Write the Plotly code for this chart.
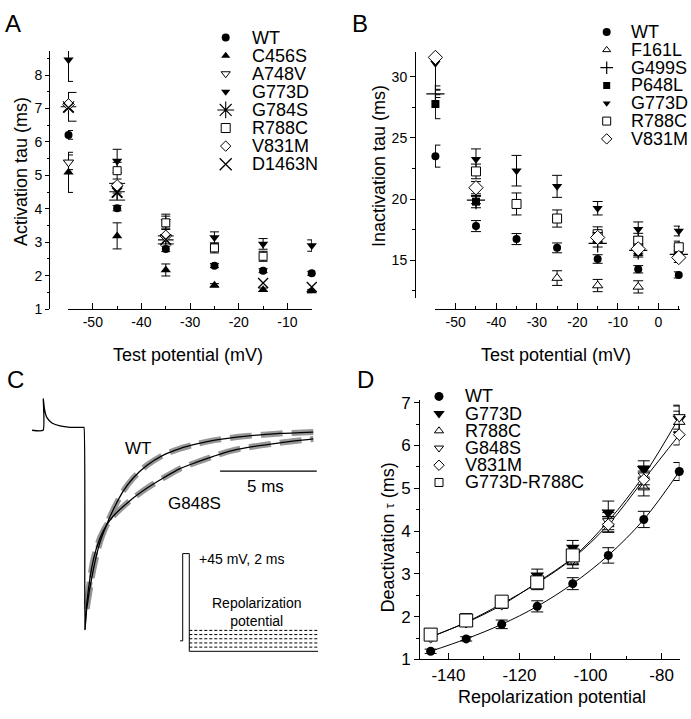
import plotly.graph_objects as go

W, H = 691, 719
FONT = "Liberation Sans, Arial, sans-serif"

# ---------------- Panel A : activation tau ----------------
A_V = [-55, -45, -35, -25, -15, -5]
A_WT = [6.21, 4.02, 2.80, 2.30, 2.15, 2.07]
A_WT_err = [0.13, 0.08, 0.08, 0.06, 0.06, 0.06]
A_C456S = [5.09, 3.19, 2.17, 1.71, 1.58, 1.54]
A_C456S_err = [0.60, 0.39, 0.18, 0.05, 0.05, 0.05]
A_A748V_V = [-55, -45]
A_A748V = [5.39, 4.62]
A_A748V_err = [0.22, 0.15]
A_G773D = [8.46, 5.43, 3.63, 3.14, 2.95, 2.90]
A_G773D_err = [0.65, 0.35, 0.21, 0.17, 0.16, 0.17]
A_G784S_V = [-55, -45, -35]
A_G784S = [7.05, 4.51, 3.07]
A_G784S_err = [0.43, 0.25, 0.12]
A_R788C_V = [-45, -35, -25, -15]
A_R788C = [5.14, 3.58, 2.83, 2.58]
A_R788C_err = [0.25, 0.20, 0.15, 0.15]
A_V831M_V = [-55, -45, -35]
A_V831M = [7.12, 4.70, 3.19]
A_D1463N_V = [-55, -45, -35, -15, -5]
A_D1463N = [7.02, 4.48, 3.08, 1.78, 1.66]
A_xticks = [-50, -40, -30, -20, -10]
A_xticklabels = ["-50", "-40", "-30", "-20", "-10"]
A_names = ["WT", "C456S", "A748V", "G773D", "G784S", "R788C", "V831M", "D1463N"]

# ---------------- Panel B : inactivation tau ----------------
B_V = [-55, -45, -35, -25, -15, -5, 5]
B_WT = [23.51, 17.79, 16.73, 16.01, 15.10, 14.26, 13.80]
B_WT_err = [0.90, 0.45, 0.45, 0.40, 0.35, 0.30, 0.25]
B_F161L_V = [-25, -15, -5]
B_F161L = [13.54, 12.93, 12.82]
B_F161L_err = [0.60, 0.50, 0.50]
B_G499S_V = [-55, -45, -15, -5, 5]
B_G499S = [28.6, 19.92, 16.38, 15.80, 15.48]
B_G499S_err = [0.30, 0.30, 0.30, 0.40, 0.30]
B_P648L_V = [-55, -45, -5, 5]
B_P648L = [27.77, 19.79, 15.66, 15.74]
B_P648L_err = [1.20, 0.50, 0.40, 0.40]
B_G773D = [31.10, 23.25, 22.32, 21.04, 19.25, 17.53, 17.39]
B_G773D_err = [1.85, 0.85, 1.25, 0.90, 0.55, 0.60, 0.40]
B_R788C_V = [-45, -35, -25, -15, -5, 5]
B_R788C = [22.26, 19.60, 18.41, 17.13, 16.60, 16.06]
B_R788C_err = [0.60, 0.90, 0.70, 0.60, 0.60, 0.50]
B_V831M_V = [-55, -45, -15, -5, 5]
B_V831M = [31.58, 20.93, 16.86, 15.93, 15.22]
B_V831M_err = [3.05, 0.50, 0.40, 0.40, 0.40]
B_xticks = [-50, -40, -30, -20, -10, 0]
B_xticklabels = ["-50", "-40", "-30", "-20", "-10", "0"]
B_names = ["WT", "F161L", "G499S", "P648L", "G773D", "R788C", "V831M"]

# ---------------- Panel C : current traces ----------------
C_pre_t = [-2.69, -2.12, -2.11, -2.05, -1.92, -1.66, -1.24, -0.73, -0.03, 0.0]
C_pre_I = [-0.014, -0.014, 0.142, 0.092, 0.048, 0.022, 0.007, 0.0, 0.0, 0.0]
C_WT_t = [0.05, 0.14, 0.48, 0.83, 1.18, 1.52, 2.04, 2.55, 3.25, 4.11, 4.97, 5.84, 6.70, 8.43, 10.16, 11.88]
C_WT_I = [-1.0, -0.897, -0.704, -0.567, -0.478, -0.406, -0.314, -0.250, -0.188, -0.137,
          -0.105, -0.082, -0.064, -0.043, -0.030, -0.023]
C_G848S_t = [0.05, 0.14, 0.48, 0.83, 1.18, 1.52, 2.38, 3.25, 4.11, 4.97, 5.84, 6.70, 7.56, 8.43, 10.16, 11.88]
C_G848S_I = [-1.0, -0.873, -0.656, -0.546, -0.482, -0.438, -0.362, -0.301, -0.250, -0.204,
             -0.172, -0.143, -0.117, -0.100, -0.076, -0.057]
C_scale_t = [7.05, 12.06]
C_scale_I = [-0.216, -0.216]
# voltage protocol (inset)
P_t = [-0.8, 0, 0, 2, 2, 41]
P_V = [-80, -80, 45, 45, -95, -95]
P_levels = [-65, -71, -77, -83, -89]
P_level_t = [2, 41]

# ---------------- Panel D : deactivation tau ----------------
D_V = [-145, -135, -125, -115, -105, -95, -85, -75]
D_WT = [1.19, 1.48, 1.82, 2.24, 2.77, 3.43, 4.27, 5.39]
D_WT_err = [0.05, 0.05, 0.10, 0.13, 0.14, 0.18, 0.19, 0.21]
D_G773D = [1.66, 1.99, 2.37, 2.96, 3.61, 4.43, 5.45, 6.62]
D_G773D_err = [0.05, 0.08, 0.08, 0.15, 0.17, 0.27, 0.19, 0.30]
D_R788C = [1.50, 1.85, 2.30, 2.75, 3.28, 4.16, 5.02, 6.55]
D_R788C_err = [0.05, 0.08, 0.08, 0.12, 0.15, 0.18, 0.20, 0.25]
D_G848S = [1.53, 1.86, 2.27, 2.80, 3.38, 4.23, 5.30, 6.66]
D_G848S_err = [0.05, 0.08, 0.08, 0.12, 0.15, 0.20, 0.22, 0.28]
D_V831M = [1.52, 1.87, 2.30, 2.78, 3.36, 4.15, 5.20, 6.25]
D_V831M_err = [0.05, 0.08, 0.08, 0.12, 0.15, 0.18, 0.20, 0.24]
D_dm_V = [-145, -135, -125, -115, -105]
D_dm = [1.58, 1.91, 2.35, 2.80, 3.43]
D_dm_err = [0.06, 0.08, 0.08, 0.10, 0.12]
D_xticks = [-140, -120, -100, -80]
D_xticklabels = ["-140", "-120", "-100", "-80"]
D_names = ["WT", "G773D", "R788C", "G848S", "V831M", "G773D-R788C"]

# ---------------- styles ----------------
BLK = "black"
STY = {
    "circle": dict(symbol="circle", color=BLK, line=dict(color=BLK, width=0)),
    "tri_up": dict(symbol="triangle-up", color=BLK, line=dict(color=BLK, width=0)),
    "tri_up_open": dict(symbol="triangle-up", color="white", line=dict(color=BLK, width=1)),
    "tri_down": dict(symbol="triangle-down", color=BLK, line=dict(color=BLK, width=0)),
    "tri_down_open": dict(symbol="triangle-down", color="white", line=dict(color=BLK, width=1)),
    "square": dict(symbol="square", color=BLK, line=dict(color=BLK, width=0)),
    "square_open": dict(symbol="square", color="white", line=dict(color=BLK, width=1)),
    "diamond_open": dict(symbol="diamond", color="white", line=dict(color=BLK, width=1)),
    "asterisk": dict(symbol="asterisk-open", color=BLK, line=dict(color=BLK, width=1.1)),
    "x": dict(symbol="x-thin-open", color=BLK, line=dict(color=BLK, width=1.3)),
    "cross": dict(symbol="cross-thin-open", color=BLK, line=dict(color=BLK, width=1.2)),
}

fig = go.Figure()


def series(x, y, err, xa, ya, style, size, capw=4.5):
    m = dict(STY[style])
    m["size"] = size
    ey = dict(type="data", array=err, color=BLK, thickness=1, width=capw) if err is not None else None
    fig.add_trace(go.Scatter(x=x, y=y, xaxis=xa, yaxis=ya, mode="markers", marker=m,
                             error_y=ey, cliponaxis=False, showlegend=False, hoverinfo="skip"))


def legend(axn, names, styles, sizes, x_px, top_px, sp, dx, fsize, width_px=80):
    n = len(names)
    fig.update_layout(**{
        "xaxis%d" % axn: dict(domain=[x_px / W, (x_px + width_px) / W], range=[0, width_px],
                              visible=False, fixedrange=True),
        "yaxis%d" % axn: dict(domain=[1 - (top_px + (n - 0.5) * sp) / H, 1 - (top_px - 0.5 * sp) / H],
                              range=[n - 0.5, -0.5], visible=False, fixedrange=True),
    })
    for i, (nm, st, sz) in enumerate(zip(names, styles, sizes)):
        m = dict(STY[st])
        m["size"] = sz
        fig.add_trace(go.Scatter(x=[0], y=[i], xaxis="x%d" % axn, yaxis="y%d" % axn, mode="markers",
                                 marker=m, cliponaxis=False, showlegend=False, hoverinfo="skip"))
        fig.add_annotation(x=dx, y=i, xref="x%d" % axn, yref="y%d" % axn, text=nm, showarrow=False,
                           xanchor="left", yanchor="middle", font=dict(family=FONT, size=fsize, color=BLK))


def text(x, y, s, size, xref="paper", yref="paper", angle=0, xanchor="center", yanchor="middle"):
    if xref == "paper":
        x = x / W
    if yref == "paper":
        y = 1 - y / H
    fig.add_annotation(x=x, y=y, xref=xref, yref=yref, text=s, showarrow=False, textangle=angle,
                       xanchor=xanchor, yanchor=yanchor, font=dict(family=FONT, size=size, color=BLK))


# ---------------- Panel A traces ----------------
series(A_V, A_WT, A_WT_err, "x", "y", "circle", 8)
series(A_V, A_C456S, A_C456S_err, "x", "y", "tri_up", 9)
series(A_A748V_V, A_A748V, A_A748V_err, "x", "y", "tri_down_open", 9)
series(A_V, A_G773D, A_G773D_err, "x", "y", "tri_down", 9)
series(A_G784S_V, A_G784S, A_G784S_err, "x", "y", "asterisk", 13, capw=8)
series(A_R788C_V, A_R788C, A_R788C_err, "x", "y", "square_open", 8)
series(A_V831M_V, A_V831M, None, "x", "y", "diamond_open", 9)
series(A_D1463N_V, A_D1463N, None, "x", "y", "x", 10)

# ---------------- Panel B traces ----------------
series(B_V, B_WT, B_WT_err, "x2", "y2", "circle", 8, capw=5)
series(B_F161L_V, B_F161L, B_F161L_err, "x2", "y2", "tri_up_open", 9, capw=5)
series(B_G499S_V, B_G499S, B_G499S_err, "x2", "y2", "cross", 13, capw=5)
series(B_P648L_V, B_P648L, B_P648L_err, "x2", "y2", "square", 8, capw=5)
series(B_V, B_G773D, B_G773D_err, "x2", "y2", "tri_down", 9, capw=5)
series(B_R788C_V, B_R788C, B_R788C_err, "x2", "y2", "square_open", 9, capw=5)
series(B_V831M_V, B_V831M, B_V831M_err, "x2", "y2", "diamond_open", 11, capw=5)

# ---------------- Panel D traces ----------------
for yy in (D_WT, D_G848S, D_V831M):
    fig.add_trace(go.Scatter(x=D_V, y=yy, xaxis="x3", yaxis="y3", mode="lines",
                             line=dict(color=BLK, width=1, shape="spline", smoothing=1.0),
                             cliponaxis=False, showlegend=False, hoverinfo="skip"))
series(D_V, D_WT, D_WT_err, "x3", "y3", "circle", 9, capw=6)
series(D_V, D_G773D, D_G773D_err, "x3", "y3", "tri_down", 12, capw=6)
series(D_V, D_R788C, D_R788C_err, "x3", "y3", "tri_up_open", 10, capw=6)
series(D_V, D_G848S, D_G848S_err, "x3", "y3", "tri_down_open", 10, capw=6)
series(D_V, D_V831M, D_V831M_err, "x3", "y3", "diamond_open", 9, capw=6)
series(D_dm_V, D_dm, D_dm_err, "x3", "y3", "square_open", 13, capw=6)

# ---------------- Panel C traces ----------------
for tt, ii in ((C_WT_t, C_WT_I), (C_G848S_t, C_G848S_I)):
    fig.add_trace(go.Scatter(x=tt[1:], y=ii[1:], xaxis="x4", yaxis="y4", mode="lines",
                             line=dict(color="rgba(140,140,140,0.9)", width=6, dash="22px,9px",
                                       shape="spline", smoothing=0.8),
                             showlegend=False, hoverinfo="skip"))
fig.add_trace(go.Scatter(x=C_pre_t + C_WT_t, y=C_pre_I + C_WT_I, xaxis="x4", yaxis="y4", mode="lines",
                         line=dict(color=BLK, width=1.3, shape="spline", smoothing=0.5),
                         showlegend=False, hoverinfo="skip"))
fig.add_trace(go.Scatter(x=C_G848S_t, y=C_G848S_I, xaxis="x4", yaxis="y4", mode="lines",
                         line=dict(color=BLK, width=1.3, shape="spline", smoothing=0.8),
                         showlegend=False, hoverinfo="skip"))
fig.add_trace(go.Scatter(x=C_scale_t, y=C_scale_I, xaxis="x4", yaxis="y4", mode="lines",
                         line=dict(color=BLK, width=1.3), showlegend=False, hoverinfo="skip"))
# protocol inset
fig.add_trace(go.Scatter(x=P_t, y=P_V, xaxis="x5", yaxis="y5", mode="lines",
                         line=dict(color=BLK, width=1), showlegend=False, hoverinfo="skip"))
for lv in P_levels:
    fig.add_trace(go.Scatter(x=P_level_t, y=[lv, lv], xaxis="x5", yaxis="y5", mode="lines",
                             line=dict(color=BLK, width=1, dash="3px,2px"), showlegend=False, hoverinfo="skip"))

# ---------------- axes ----------------
tf = dict(family=FONT, size=14, color=BLK)
tfD = dict(family=FONT, size=17, color=BLK)


def ax(**kw):
    d = dict(showline=True, linecolor=BLK, linewidth=1, showgrid=False, zeroline=False,
             tickcolor=BLK, tickwidth=1, tickfont=tf, fixedrange=True)
    d.update(kw)
    return d


fig.update_layout(
    width=W, height=H, margin=dict(l=0, r=0, t=0, b=0),
    paper_bgcolor="white", plot_bgcolor="rgba(0,0,0,0)", showlegend=False,
    font=dict(family=FONT, color=BLK),
    xaxis=ax(domain=[68 / W, 312 / W], range=[-55.1, -4.95], anchor="y",
             tickmode="array", tickvals=A_xticks, ticktext=A_xticklabels, ticks="inside", ticklen=6,
             minor=dict(dtick=5, tick0=-55, ticks="inside", ticklen=3, tickcolor=BLK)),
    yaxis=ax(domain=[1 - 310 / H, 1 - 46 / H], range=[1, 8.72], anchor="free", position=49 / W,
             tick0=1, dtick=1, ticks="outside", ticklen=4,
             minor=dict(dtick=0.5, tick0=1, ticks="outside", ticklen=2, tickcolor=BLK)),
    xaxis2=ax(domain=[435 / W, 680 / W], range=[-55.1, 5.3], anchor="free", position=1 - 310 / H,
              tickmode="array", tickvals=B_xticks, ticktext=B_xticklabels, ticks="inside", ticklen=6,
              minor=dict(dtick=5, tick0=-55, ticks="inside", ticklen=3, tickcolor=BLK)),
    yaxis2=ax(domain=[1 - 298.3 / H, 1 - 46.7 / H], range=[11.94, 32.05], anchor="free", position=415 / W,
              tick0=15, dtick=5, ticks="outside", ticklen=5,
              minor=dict(dtick=2.5, tick0=15, ticks="outside", ticklen=3, tickcolor=BLK)),
    xaxis3=ax(domain=[420 / W, 679.5 / W], range=[-148, -74.95], anchor="y3",
              tickmode="array", tickvals=D_xticks, ticktext=D_xticklabels, ticks="inside", ticklen=6,
              tickfont=tfD, minor=dict(dtick=10, tick0=-140, ticks="inside", ticklen=3, tickcolor=BLK)),
    yaxis3=ax(domain=[1 - 668.3 / H, 1 - 403 / H], range=[1, 7.06], anchor="x3",
              tick0=1, dtick=1, ticks="outside", ticklen=5, tickfont=tfD,
              minor=dict(dtick=0.5, tick0=1, ticks="outside", ticklen=3, tickcolor=BLK)),
    xaxis4=dict(domain=[20 / W, 330 / W], range=[-3.316, 12.746], visible=False, fixedrange=True),
    yaxis4=dict(domain=[1 - 680 / H, 1 - 390 / H], range=[-1.203, 0.198], visible=False, fixedrange=True),
    xaxis5=dict(domain=[175 / W, 325 / W], range=[-2.33, 43.12], visible=False, fixedrange=True),
    yaxis5=dict(domain=[1 - 670 / H, 1 - 550 / H], range=[-109, 59.1], visible=False, fixedrange=True),
)

# ---------------- legends ----------------
legend(6, A_names, ["circle", "tri_up", "tri_down_open", "tri_down", "asterisk", "square_open",
                    "diamond_open", "x"], [8, 8, 8, 8, 14, 9, 8, 12], 225.7, 32.3, 18.5, 24.3, 18)
legend(7, B_names, ["circle", "tri_up_open", "cross", "square", "tri_down", "square_open", "diamond_open"],
       [8, 7, 9, 7, 7, 8, 8], 606.7, 26.7, 18.2, 22.6, 18, width_px=60)
legend(8, D_names, ["circle", "tri_down", "tri_up_open", "tri_down_open", "diamond_open", "square_open"],
       [9, 10, 8, 8, 8, 8], 439, 399.3, 17.6, 24.3, 18)

# ---------------- texts ----------------
for lab, x, y in (("A", 13, 18), ("B", 360, 18), ("C", 15, 382), ("D", 365, 382)):
    text(x, y, lab, 24)
text(21.7, 169, "Activation tau (ms)", 18, angle=-90)
text(188, 357, "Test potential (mV)", 18)
text(378.3, 163.3, "Inactivation tau (ms)", 18, angle=-90)
text(556, 357, "Test potential (mV)", 18)
text(388.3, 543.3, "Deactivation <span style='font-size:13px'>τ</span> (ms)", 18, angle=-90)
text(551.7, 706.7, "Repolarization potential", 18)
text(2.80, -0.105, "WT", 17, xref="x4", yref="y4")
text(5.75, -0.377, "G848S", 17, xref="x4", yref="y4")
text(9.38, -0.29, "5 ms", 17, xref="x4", yref="y4")
text(4.24, 37.1, "+45 mV, 2 ms", 14, xref="x5", yref="y5", xanchor="left")
text(22.4, -39, "Repolarization<br>potential", 14, xref="x5", yref="y5")

fig.write_html("out.html", config={"displayModeBar": False, "staticPlot": True},
               post_script="document.body.style.margin='0';document.body.style.overflow='hidden';")
